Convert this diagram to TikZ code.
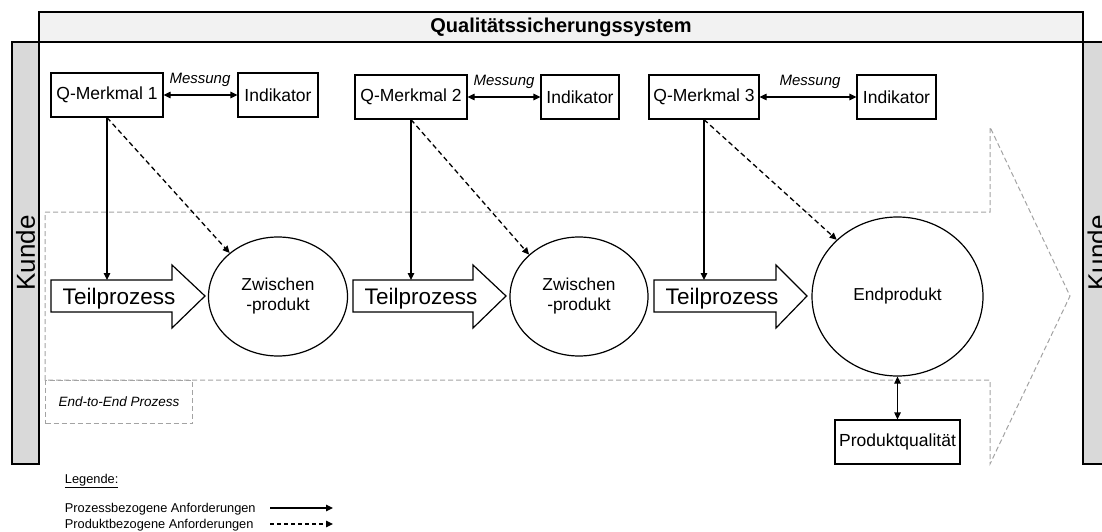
\documentclass[tikz,border=0pt]{standalone}
\usepackage{fontspec}
\setmainfont{Liberation Sans}
\usetikzlibrary{arrows.meta,shapes.geometric}
\definecolor{titlegray}{HTML}{F2F2F2}
\definecolor{kundegray}{HTML}{D9D9D9}
\definecolor{dashgray}{HTML}{A3A3A3}
\newcommand\fsz[2]{\fontsize{#1}{#2}\selectfont}
\begin{document}
\begin{tikzpicture}[x=1pt,y=-1pt, line width=1.2pt,
  >={Triangle[length=7pt,width=6.5pt]},
  box/.style={draw, fill=white, minimum height=44pt, inner sep=0pt, font=\fsz{17.5}{21}},
  prod/.style={draw, ellipse, fill=white, inner sep=0pt, align=center, font=\fsz{17.3}{20}},
  meas/.style={font=\fsz{15}{18}\itshape},
  dsh/.style={line width=1.3pt, dash pattern=on 5pt off 3.3pt},
  gdsh/.style={draw=dashgray, line width=1pt, dash pattern=on 5pt off 3pt},
  tp/.style={draw, fill=white, line join=miter},
  tptext/.style={font=\fsz{22.5}{26}},
  kunde/.style={draw, fill=kundegray, rotate=90, inner sep=0pt, minimum width=422pt, font=\fsz{26}{30}},
  legtext/.style={anchor=base west, font=\fsz{12.8}{15}},
]
\useasboundingbox (0,0) rectangle (1102,532);

% customer bars
\node[kunde, minimum height=27pt] (k1) at (25.5,253) {Kunde};
\node[kunde, minimum height=28pt] (k2) at (1097,253) {Kunde};

% title bar
\node[draw, fill=titlegray, minimum width=1044pt, minimum height=30pt, inner sep=0pt,
      font=\fsz{20}{24}\bfseries] (title) at (561,27) {Qualitätssicherungssystem};

% end-to-end process (dashed big arrow)
\draw[gdsh] (45,212) -- (990,212) -- (990,127) -- (1070,296) -- (990,464) -- (990,380) -- (45,380) -- cycle;
\node[gdsh, draw, anchor=north west, minimum width=147pt, minimum height=43pt, inner sep=0pt,
      font=\fsz{13.5}{16}\itshape] (e2e) at (45,380) {End-to-End Prozess};

% quality characteristics and indicators
\node[box, minimum width=112pt] (q1) at (107,95) {Q-Merkmal 1};
\node[box, minimum width=80pt]  (i1) at (278,95) {Indikator};
\node[box, minimum width=112pt] (q2) at (411,97) {Q-Merkmal 2};
\node[box, minimum width=78pt]  (i2) at (580,97) {Indikator};
\node[box, minimum width=110pt] (q3) at (704,97) {Q-Merkmal 3};
\node[box, minimum width=79pt]  (i3) at (896.5,97) {Indikator};

\draw[<->] (q1) -- (i1);
\draw[<->] (q2) -- (i2);
\draw[<->] (q3) -- (i3);
\node[meas] (m1) at (200,80) {Messung};
\node[meas] (m2) at (504,82) {Messung};
\node[meas] (m3) at (810,82) {Messung};

% sub-process block arrows
\draw[tp] (51,280) -- (172,280) -- (172,265) -- (205,296) -- (172,328) -- (172,312) -- (51,312) -- cycle;
\draw[tp] (353,280) -- (473,280) -- (473,265) -- (506,296) -- (473,328) -- (473,312) -- (353,312) -- cycle;
\draw[tp] (654,280) -- (776,280) -- (776,265) -- (807,296) -- (776,328) -- (776,312) -- (654,312) -- cycle;
\node[tptext] (t1) at (119,298.5) {Teilprozess};
\node[tptext] (t2) at (421,298.5) {Teilprozess};
\node[tptext] (t3) at (722,298.5) {Teilprozess};
\coordinate (t1top) at (107,280);
\coordinate (t2top) at (411,280);
\coordinate (t3top) at (704,280);

% products
\node[prod, minimum width=139pt, minimum height=119pt] (z1) at (278,296.5) {Zwischen\\-produkt};
\node[prod, minimum width=138pt, minimum height=119pt] (z2) at (579,296.5) {Zwischen\\-produkt};
\node[prod, minimum width=171pt, minimum height=159pt] (ep) at (897.5,296.5) {Endprodukt};
\node[box, minimum width=125pt] (pq) at (897.5,442) {Produktqualität};

% requirement connectors
\draw[->] (q1.south) -- (t1top);
\draw[->] (q2.south) -- (t2top);
\draw[->] (q3.south) -- (t3top);
\draw[dsh,->] (q1.south) -- (z1.138);
\draw[dsh,->] (q2.south) -- (z2.140);
\draw[dsh,->] (q3.south) -- (ep.137);
\draw[<->] (ep.south) -- (pq.north);

% legend
\node[legtext] (leg) at (61,483) {\underline{Legende:}};
\node[legtext] (l1) at (61,512.5) {Prozessbezogene Anforderungen};
\node[legtext] (l2) at (61,528.5) {Produktbezogene Anforderungen};
\coordinate (l1a) at (270,508); \coordinate (l1b) at (333,508);
\coordinate (l2a) at (270,524); \coordinate (l2b) at (333,524);
\draw[line width=1.1pt, -{Triangle[length=7pt,width=6.5pt]}] (l1a) -- (l1b);
\draw[line width=1.1pt, dash pattern=on 4pt off 3pt, -{Triangle[length=7pt,width=6.5pt]}] (l2a) -- (l2b);
\end{tikzpicture}
\end{document}
